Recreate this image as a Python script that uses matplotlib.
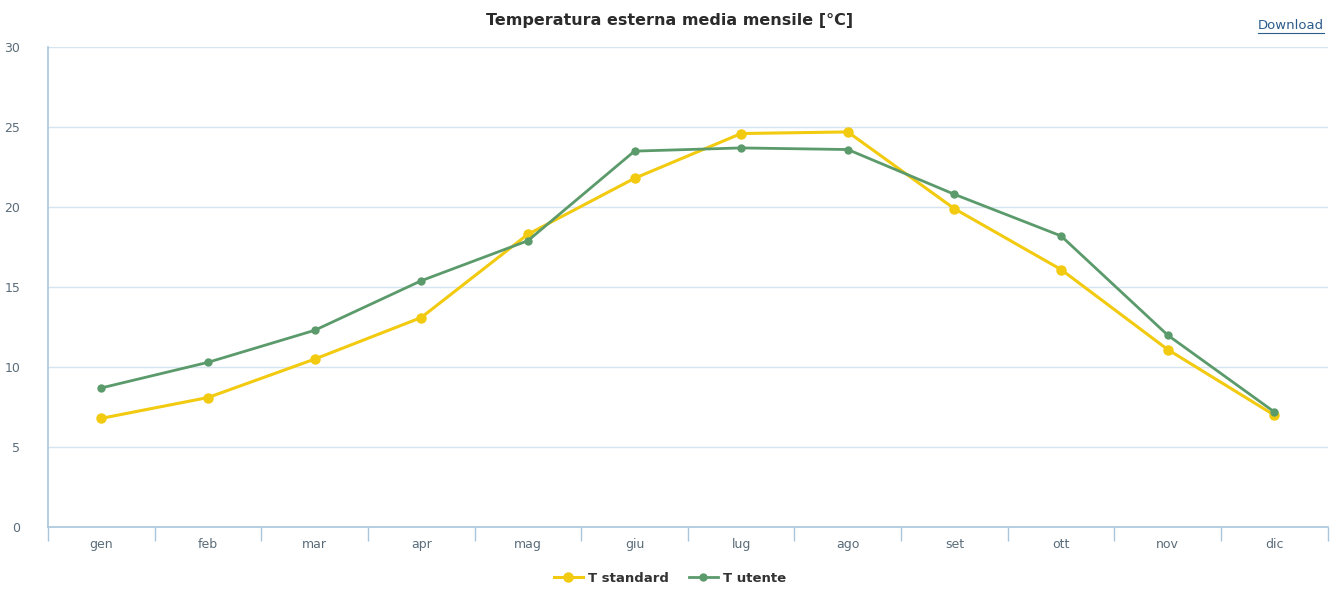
import matplotlib
matplotlib.use('Agg')
import matplotlib.pyplot as plt
import numpy as np

# Data
months = ['gen', 'feb', 'mar', 'apr', 'mag', 'giu', 'lug', 'ago', 'set', 'ott', 'nov', 'dic']
t_standard = [6.8, 8.1, 10.5, 13.1, 18.3, 21.8, 24.6, 24.7, 19.9, 16.1, 11.1, 7.0]
t_utente = [8.7, 10.3, 12.3, 15.4, 17.9, 23.5, 23.7, 23.6, 20.8, 18.2, 12.0, 7.2]
y_ticks = [0, 5, 10, 15, 20, 25, 30]

yellow = '#F2CA0F'
green = '#5B9A6B'
axis_col = '#A9C6DC'
grid_col = '#D6E4F0'
label_col = '#5A6C7A'

fig = plt.figure(figsize=(13.4, 5.89), dpi=100)
ax = fig.add_axes([0.0358, 0.105, 0.955, 0.815])

x = np.arange(len(months))
ax.plot(x, t_standard, color=yellow, lw=2.2, marker='o', ms=6.5, label='T standard', zorder=3)
ax.plot(x, t_utente, color=green, lw=2.0, marker='o', ms=5, label='T utente', zorder=4)

ax.set_xlim(-0.5, len(months) - 0.5)
ax.set_ylim(0, 30)
ax.set_yticks(y_ticks)
ax.set_yticklabels([str(v) for v in y_ticks], color=label_col, fontsize=9)
ax.yaxis.grid(True, color=grid_col, lw=1)
ax.set_axisbelow(True)
ax.tick_params(axis='y', length=0, pad=20)

ax.set_xticks(x)
ax.set_xticklabels(months, color=label_col, fontsize=9)
ax.set_xticks(np.arange(-0.5, len(months), 1.0), minor=True)
ax.tick_params(axis='x', which='major', length=0, pad=8)
ax.tick_params(axis='x', which='minor', length=10, color=axis_col, width=1)

for side in ['top', 'right']:
    ax.spines[side].set_visible(False)
for side in ['left', 'bottom']:
    ax.spines[side].set_color(axis_col)
    ax.spines[side].set_linewidth(1.2)

fig.text(0.5, 0.965, 'Temperatura esterna media mensile [°C]', ha='center', va='center',
         fontsize=11.5, fontweight='bold', color='#2B2B2B')
dl = fig.text(0.988, 0.957, 'Download', ha='right', va='center', fontsize=9.5, color='#2C5C8C')

leg = fig.legend(loc='center', bbox_to_anchor=(0.5, 0.018), ncol=2, frameon=False,
                 prop={'weight': 'bold', 'size': 9.5}, handlelength=2.2, columnspacing=1.5,
                 handletextpad=0.4)
for txt in leg.get_texts():
    txt.set_color('#333333')

# underline the Download link under its own extent
fig.canvas.draw()
bb = dl.get_window_extent().transformed(fig.transFigure.inverted())
fig.add_artist(plt.Line2D([bb.x0, bb.x1], [bb.y0 - 0.002, bb.y0 - 0.002], color='#2C5C8C', lw=0.8))

fig.savefig('out.png', dpi=100)
plt.close(fig)
